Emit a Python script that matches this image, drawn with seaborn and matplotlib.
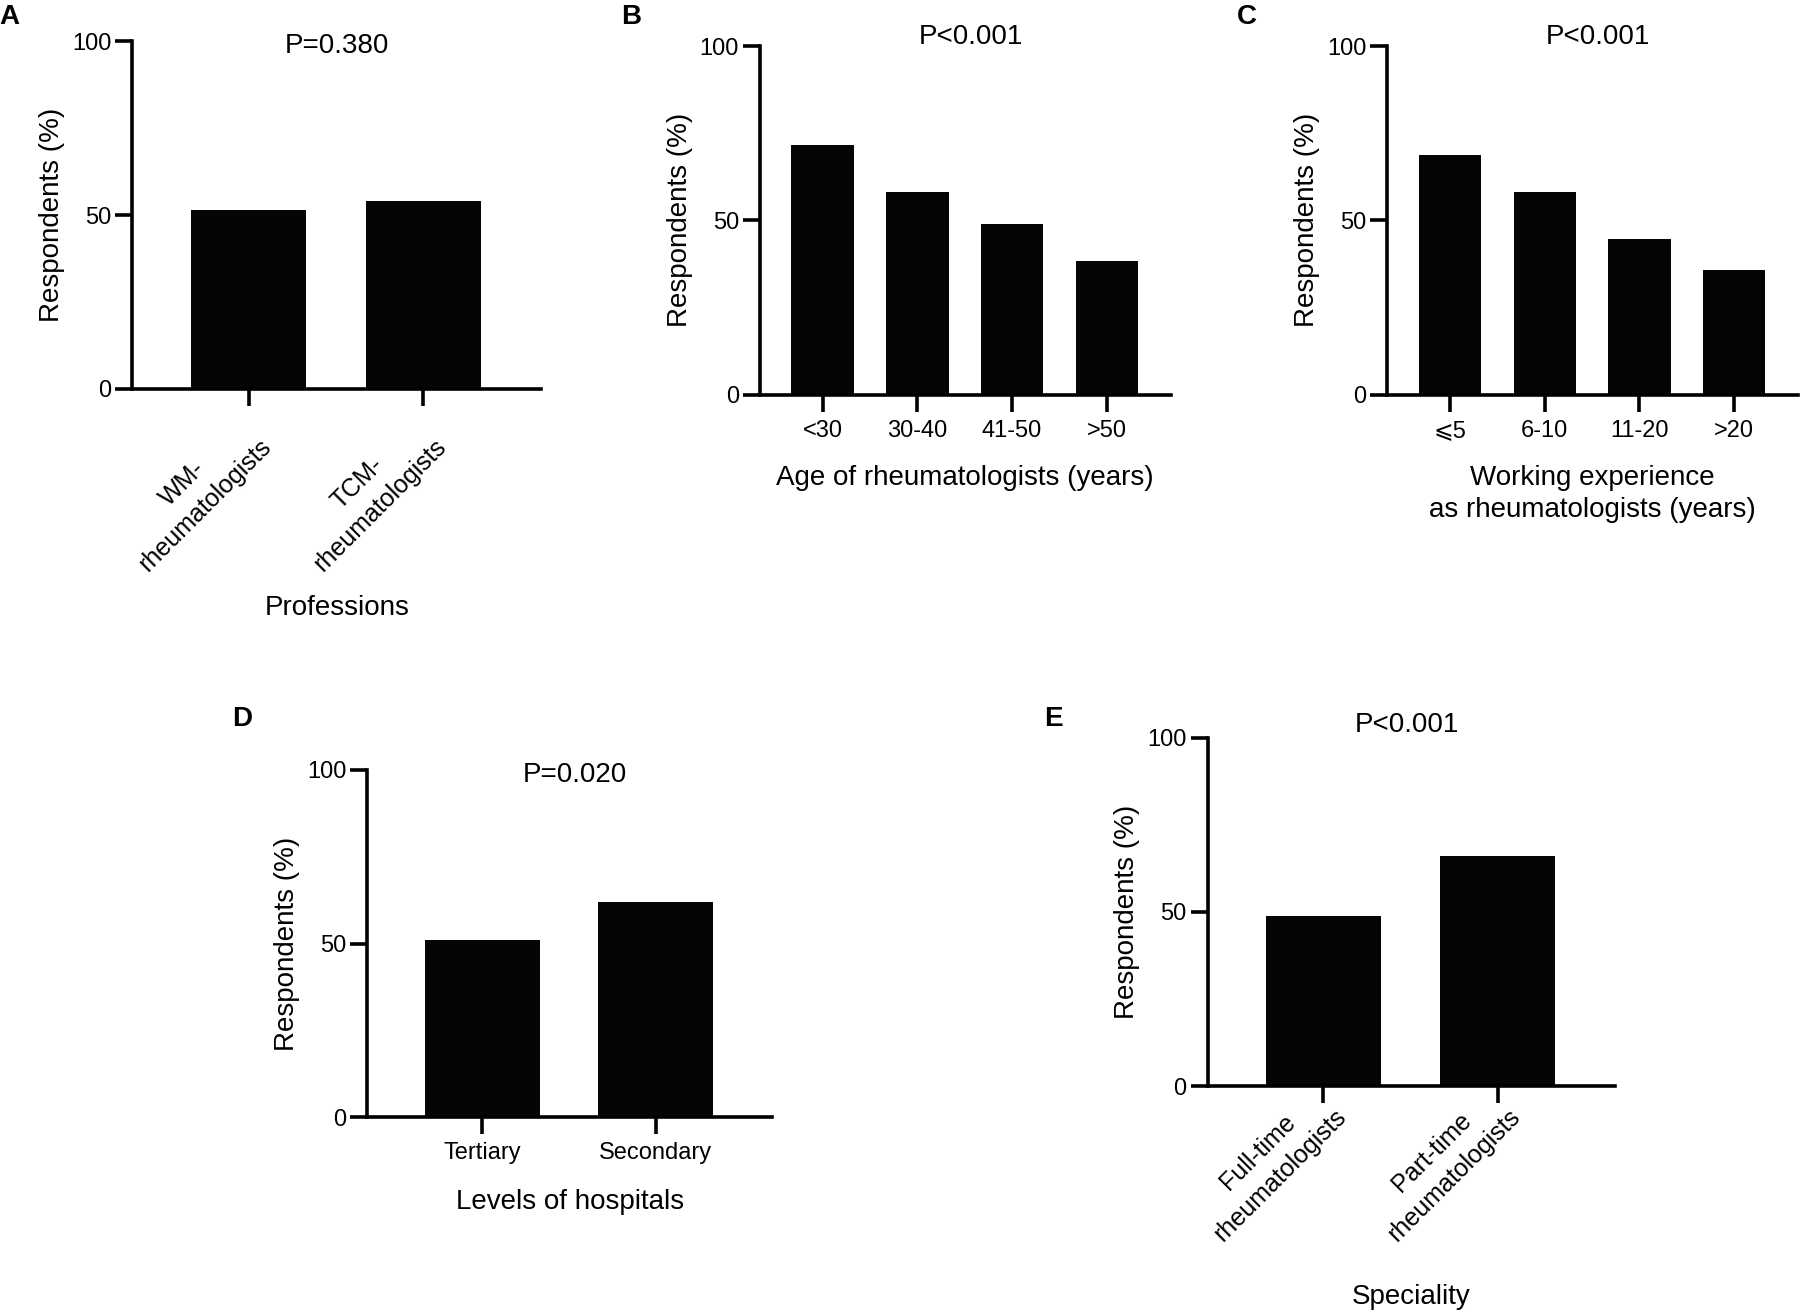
import pandas as pd
import matplotlib
matplotlib.use('Agg')
import matplotlib.pyplot as plt
from matplotlib.transforms import ScaledTranslation
import seaborn as sns

# Values (% of respondents)
professions = ['WM-\nrheumatologists', 'TCM-\nrheumatologists']
professions_pct = [51.4, 54.1]

age_groups = ['<30', '30-40', '41-50', '>50']
age_pct = [71.5, 58.0, 48.9, 38.3]

experience_groups = ['\u2a7d5', '6-10', '11-20', '>20']
experience_pct = [68.8, 58.1, 44.7, 35.9]

hospital_levels = ['Tertiary', 'Secondary']
hospital_pct = [51.1, 61.9]

speciality_groups = ['Full-time\nrheumatologists', 'Part-time\nrheumatologists']
speciality_pct = [48.9, 66.1]

p_texts = ['P=0.380', 'P<0.001', 'P<0.001', 'P=0.020', 'P<0.001']
panel_letters = ['A', 'B', 'C', 'D', 'E']

sns.set_theme(style='ticks')
plt.rcParams['font.family'] = ['Liberation Sans', 'DejaVu Sans', 'Noto Sans CJK SC']
plt.rcParams['text.color'] = 'black'
plt.rcParams['axes.labelcolor'] = 'black'

fig = plt.figure(figsize=(18.05, 13.13), dpi=100)

# layout measured on the reference (pixel grid of 1568 x 1141)
W, H = 1568, 1141


def rect(l, r, t, b):
    return [l / W, 1 - b / H, (r - l) / W, (b - t) / H]


def draw_panel(box, cats, vals, xlabel, ptext, pxy, xlabel_y, rot_pad=None):
    ax = fig.add_axes(rect(*box))
    df = pd.DataFrame({'group': cats, 'pct': vals})
    sns.barplot(data=df, x='group', y='pct', color='#050505', saturation=1,
                width=0.66, ax=ax, linewidth=0)
    n = len(cats)
    ax.set_xlim(-0.665, n - 1 + 0.675)
    ax.set_ylim(0, 100)
    ax.set_yticks([0, 50, 100])
    sns.despine(ax=ax)
    for side in ['left', 'bottom']:
        ax.spines[side].set_linewidth(2.6)
        ax.spines[side].set_color('black')
    ax.tick_params(axis='both', width=2.6, length=12, labelsize=17,
                   colors='black', direction='out')
    ax.tick_params(axis='y', pad=3)
    ax.set_ylabel('Respondents (%)', fontsize=20, labelpad=5)
    ax.set_xlabel(xlabel, fontsize=20, linespacing=1.3)
    ax.xaxis.set_label_coords(0.5, xlabel_y)
    if rot_pad is not None:
        # slanted two-line category names
        ax.tick_params(axis='x', pad=rot_pad)
        shift = ScaledTranslation(0.08, 0, fig.dpi_scale_trans)
        for lab in ax.get_xticklabels():
            lab.set_fontsize(18)
            lab.set_rotation(45)
            lab.set_ha('right')
            lab.set_va('center')
            lab.set_rotation_mode('anchor')
            lab.set_multialignment('center')
            lab.set_linespacing(1.4)
            lab.set_transform(lab.get_transform() + shift)
    else:
        ax.tick_params(axis='x', pad=6)
    ax.text(pxy[0], pxy[1], ptext, transform=ax.transAxes, ha='center',
            va='center', fontsize=20)
    return ax


draw_panel((115, 470, 36, 338), professions, professions_pct, 'Professions',
           p_texts[0], (0.50, 0.988), -0.593, rot_pad=19)
draw_panel((660, 1017, 40, 343), age_groups, age_pct,
           'Age of rheumatologists (years)', p_texts[1], (0.513, 1.025), -0.202)
draw_panel((1205, 1562, 40, 343), experience_groups, experience_pct,
           'Working experience\nas rheumatologists (years)', p_texts[2],
           (0.513, 1.025), -0.202)
draw_panel((319, 671, 669, 971), hospital_levels, hospital_pct,
           'Levels of hospitals', p_texts[3], (0.513, 0.985), -0.207)
draw_panel((1049, 1403, 641, 944), speciality_groups, speciality_pct,
           'Speciality', p_texts[4], (0.489, 1.037), -0.567, rot_pad=-1)

# panel letters
letter_pos = [(8, 15), (548, 15), (1083, 15), (210, 625), (915, 625)]
for letter, (px, py) in zip(panel_letters, letter_pos):
    fig.text(px / W, 1 - py / H, letter, fontsize=20, fontweight='bold',
             ha='center', va='center')

fig.savefig('out.png', dpi=100)
